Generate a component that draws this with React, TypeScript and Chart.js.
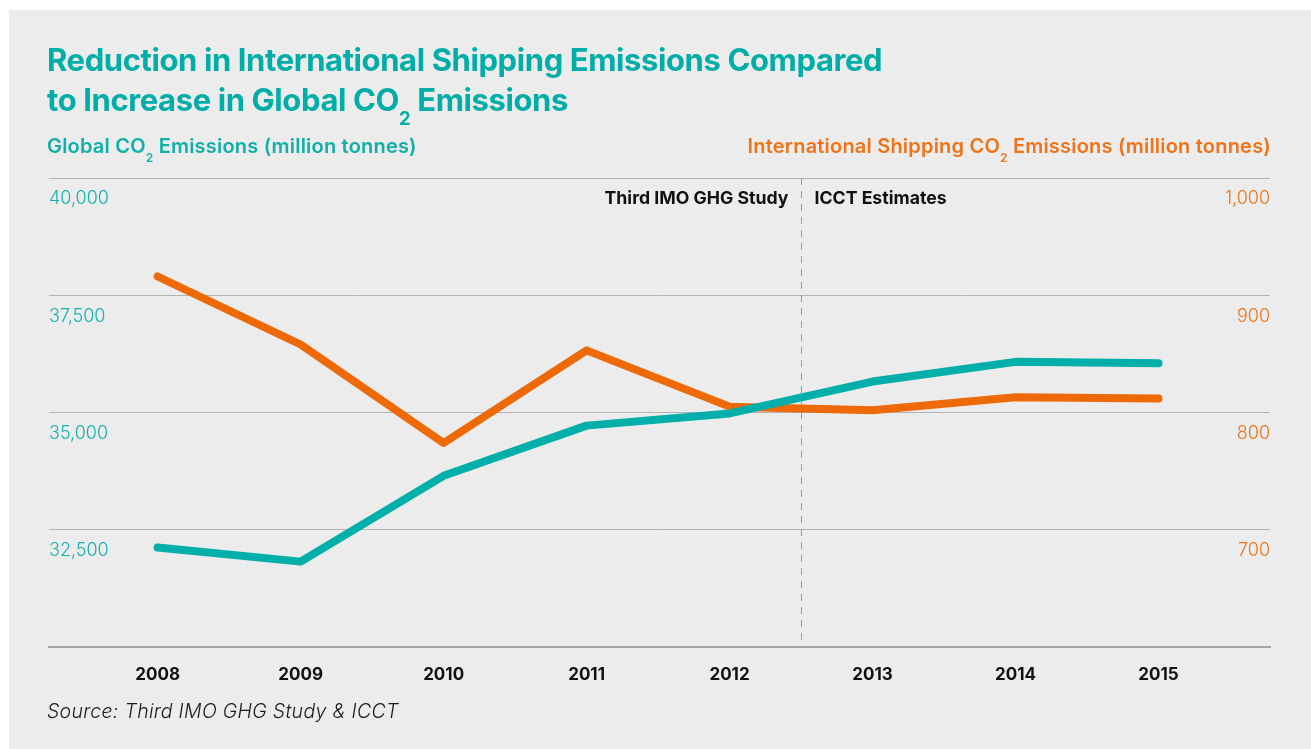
import React, { useEffect, useRef } from "react";
import { Chart, registerables } from "chart.js";

Chart.register(...registerables);

const years = [2008, 2009, 2010, 2011, 2012, 2013, 2014, 2015];
const globalCO2 = [32120, 31820, 33650, 34720, 34980, 35660, 36080, 36050];
const shippingCO2 = [916, 858, 774, 853, 805, 802, 813, 812];
const leftTicks = [30000, 32500, 35000, 37500, 40000];
const rightTicks = [600, 700, 800, 900, 1000];
const dividerYear = 2012.5;
const leftNote = "Third IMO GHG Study";
const rightNote = "ICCT Estimates";

const TEAL = "#00afa9";
const TEAL_TEXT = "#12b3ad";
const ORANGE = "#ee6a08";
const ORANGE_TEXT = "#f07318";
const FONT = "Inter, 'Noto Sans', sans-serif";

const annotationPlugin = {
  id: "annot",
  beforeDatasetsDraw(chart: any) {
    const { ctx, chartArea, scales } = chart;
    const x = Math.round(scales.x.getPixelForValue(dividerYear)) + 0.5;
    ctx.save();
    ctx.strokeStyle = "#9a9a9a";
    ctx.lineWidth = 1;
    ctx.setLineDash([7, 6]);
    ctx.beginPath();
    ctx.moveTo(x, chartArea.top);
    ctx.lineTo(x, chartArea.bottom);
    ctx.stroke();
    ctx.setLineDash([]);
    ctx.fillStyle = "#111111";
    ctx.font = `700 17.7px ${FONT}`;
    ctx.textBaseline = "middle";
    ctx.textAlign = "right";
    ctx.fillText(leftNote, x - 13, chartArea.top + 21);
    ctx.textAlign = "left";
    ctx.fillText(rightNote, x + 13, chartArea.top + 21);
    ctx.restore();
  },
};

function ChartCanvas() {
  const ref = useRef<HTMLCanvasElement | null>(null);
  useEffect(() => {
    if (!ref.current) return;
    const chart = new Chart(ref.current, {
      type: "line",
      data: {
        datasets: [
          {
            label: "Global CO2",
            data: years.map((yr, i) => ({ x: yr, y: globalCO2[i] })),
            yAxisID: "y",
            borderColor: TEAL,
            backgroundColor: TEAL,
            borderWidth: 8,
            pointRadius: 0,
            tension: 0,
            borderCapStyle: "round",
            borderJoinStyle: "round",
            clip: false,
          },
          {
            label: "Shipping CO2",
            data: years.map((yr, i) => ({ x: yr, y: shippingCO2[i] })),
            yAxisID: "y1",
            borderColor: ORANGE,
            backgroundColor: ORANGE,
            borderWidth: 8,
            pointRadius: 0,
            tension: 0,
            borderCapStyle: "round",
            borderJoinStyle: "round",
            clip: false,
          },
        ],
      },
      options: {
        animation: false,
        responsive: true,
        maintainAspectRatio: false,
        layout: { padding: { left: 49, right: 41, top: 178, bottom: 62 } },
        plugins: { legend: { display: false }, tooltip: { enabled: false }, title: { display: false } },
        scales: {
          x: {
            type: "linear",
            min: 2007.24,
            max: 2015.78,
            afterBuildTicks: (s: any) => {
              s.ticks = years.map((v) => ({ value: v }));
            },
            afterFit: (s: any) => {
              s.height = 40;
            },
            grid: { display: false, drawTicks: false },
            border: { display: true, color: "#a6a6a6", width: 2 },
            ticks: {
              padding: 18,
              color: "#111111",
              font: { family: FONT, size: 17, weight: "700" },
              callback: (v: any) => String(v),
              maxRotation: 0,
              autoSkip: false,
            },
          },
          y: {
            position: "left",
            min: 30000,
            max: 40000,
            afterBuildTicks: (s: any) => {
              s.ticks = leftTicks.map((v) => ({ value: v }));
            },
            afterFit: (s: any) => {
              s.width = 0;
            },
            grid: {
              drawTicks: false,
              color: (c: any) => (c.tick && c.tick.value === 30000 ? "rgba(0,0,0,0)" : "#b3b3b3"),
              lineWidth: 1,
            },
            border: { display: false },
            ticks: {
              mirror: true,
              padding: 0,
              labelOffset: 21,
              color: TEAL_TEXT,
              font: { family: FONT, size: 18, weight: "300" },
              callback: (v: any) => (v === 30000 ? "" : Number(v).toLocaleString("en-US")),
            },
          },
          y1: {
            position: "right",
            min: 600,
            max: 1000,
            afterBuildTicks: (s: any) => {
              s.ticks = rightTicks.map((v) => ({ value: v }));
            },
            afterFit: (s: any) => {
              s.width = 0;
            },
            grid: { display: false, drawTicks: false },
            border: { display: false },
            ticks: {
              mirror: true,
              padding: 0,
              labelOffset: 21,
              color: ORANGE_TEXT,
              font: { family: FONT, size: 18, weight: "300" },
              callback: (v: any) => (v === 600 ? "" : Number(v).toLocaleString("en-US")),
            },
          },
        },
      },
      plugins: [annotationPlugin],
    });
    return () => chart.destroy();
  }, []);
  return (
    <div style={{ position: "fixed", left: 0, top: 0, width: 1311, height: 749 }}>
      <canvas ref={ref} />
    </div>
  );
}

const sub: React.CSSProperties = { fontSize: "0.6em", position: "relative", top: "0.35em", lineHeight: 0 };

export default function App() {
  return (
    <div>
      <div style={{ position: "fixed", left: 9, top: 10, right: 0, bottom: 0, background: "#ececec" }} />
      <ChartCanvas />
      <div
        style={{
          position: "fixed",
          left: 47,
          top: 40,
          fontFamily: FONT,
          fontWeight: 700,
          fontSize: 31,
          lineHeight: "40px",
          letterSpacing: -0.4,
          color: "#00aea7",
          whiteSpace: "nowrap",
        }}
      >
        Reduction in International Shipping Emissions Compared
        <br />
        to Increase in Global CO<sub style={sub}>2</sub> Emissions
      </div>
      <div
        style={{
          position: "fixed",
          left: 47,
          top: 134,
          fontFamily: FONT,
          fontWeight: 600,
          fontSize: 20,
          lineHeight: "24px",
          letterSpacing: 0.2,
          color: "#10b0a9",
          whiteSpace: "nowrap",
        }}
      >
        Global CO<sub style={sub}>2</sub> Emissions (million tonnes)
      </div>
      <div
        style={{
          position: "fixed",
          right: 1311 - 1271,
          top: 134,
          fontFamily: FONT,
          fontWeight: 600,
          fontSize: 20,
          lineHeight: "24px",
          letterSpacing: 0.2,
          color: ORANGE_TEXT,
          whiteSpace: "nowrap",
        }}
      >
        International Shipping CO<sub style={sub}>2</sub> Emissions (million tonnes)
      </div>
      <div
        style={{
          position: "fixed",
          left: 47,
          top: 699,
          fontFamily: FONT,
          fontStyle: "italic",
          fontWeight: 300,
          fontSize: 19.5,
          lineHeight: "24px",
          letterSpacing: 0.3,
          color: "#1a1a1a",
          whiteSpace: "nowrap",
        }}
      >
        Source: Third IMO GHG Study &amp; ICCT
      </div>
    </div>
  );
}
